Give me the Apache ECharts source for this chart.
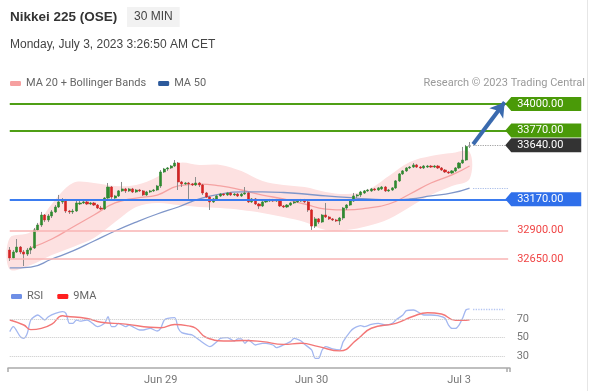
<!DOCTYPE html>
<html><head><meta charset="utf-8">
<script src="https://cdn.jsdelivr.net/npm/echarts@6/dist/echarts.min.js"></script>
<style>html,body{margin:0;padding:0;background:#fff}#c{width:589px;height:391px}</style>
</head><body><div id="c"></div>
<script>
// ---------- DATA ----------
const openP = [32728,32659,32711,32754,32711,32693,32728,32746,32903,32946,33033,32990,33025,33060,33103,33147,33164,33068,33060,33068,33129,33138,33147,33129,33138,33120,33094,33086,33181,33277,33181,33199,33243,33260,33243,33260,33234,33251,33243,33208,33234,33243,33251,33286,33408,33434,33443,33460,33486,33321,33304,33312,33304,33295,33312,33295,33225,33190,33147,33173,33199,33216,33208,33225,33208,33216,33199,33216,33225,33147,33173,33129,33112,33147,33155,33164,33155,33164,33112,33103,33120,33138,33147,33155,33164,33147,33077,32937,32999,32972,33033,33016,32999,32990,32981,33007,33094,33120,33155,33199,33208,33225,33243,33243,33260,33251,33260,33277,33243,33251,33269,33330,33391,33417,33443,33451,33469,33451,33443,33451,33460,33451,33460,33443,33425,33408,33399,33417,33443,33486,33512,33630];
const closeP = [32659,32711,32754,32711,32693,32728,32746,32903,32946,33033,32990,33025,33060,33103,33147,33164,33068,33060,33068,33138,33138,33147,33129,33138,33120,33094,33086,33181,33277,33190,33199,33243,33260,33243,33260,33234,33251,33243,33208,33234,33243,33251,33286,33408,33434,33443,33460,33486,33321,33304,33312,33304,33295,33312,33295,33225,33190,33147,33173,33199,33216,33208,33225,33208,33216,33199,33216,33225,33147,33173,33129,33112,33147,33155,33164,33155,33164,33112,33103,33120,33138,33147,33155,33164,33147,33077,32937,32999,32972,33033,33016,32999,32990,32981,33007,33094,33120,33155,33199,33208,33234,33243,33251,33260,33251,33269,33277,33243,33251,33269,33330,33391,33417,33443,33451,33469,33451,33443,33460,33460,33451,33460,33443,33425,33408,33399,33417,33443,33486,33512,33630,33640];
const lowP = [32633,32650,32702,32693,32589,32676,32693,32737,32894,32929,32972,32972,33007,33051,33094,33129,33051,33042,33042,33060,33120,33129,33120,33120,33112,33086,33077,33077,33173,33173,33164,33190,33234,33225,33234,33225,33225,33234,33199,33199,33225,33234,33243,33269,33399,33417,33434,33451,33251,33277,33295,33173,33286,33286,33277,33208,33181,33077,33138,33164,33190,33199,33199,33199,33199,33190,33190,33208,33138,33138,33120,33086,33103,33138,33147,33147,33147,33103,33094,33094,33112,33129,33138,33147,33138,33060,32903,32920,32955,32964,33007,32990,32981,32972,32946,32990,33077,33112,33147,33181,33190,33216,33234,33234,33243,33243,33251,33234,33234,33243,33260,33321,33382,33408,33434,33443,33443,33434,33434,33443,33443,33443,33434,33417,33399,33391,33391,33408,33434,33478,33504,33617];
const highP = [32754,32728,32824,32763,32728,32746,32763,32920,32964,33060,33042,33042,33077,33120,33208,33181,33173,33077,33086,33155,33155,33155,33155,33147,33147,33129,33112,33190,33312,33286,33208,33251,33321,33269,33269,33269,33260,33260,33251,33243,33251,33260,33295,33425,33443,33451,33469,33512,33495,33330,33321,33321,33312,33364,33321,33304,33234,33199,33181,33208,33225,33225,33234,33234,33225,33225,33225,33277,33234,33181,33181,33138,33155,33164,33173,33173,33173,33173,33120,33129,33147,33155,33164,33173,33173,33155,33086,33016,33007,33042,33138,33025,33007,32999,33016,33103,33129,33164,33225,33216,33243,33251,33260,33269,33269,33277,33286,33286,33260,33277,33338,33399,33425,33451,33460,33486,33478,33460,33469,33469,33469,33469,33469,33451,33434,33417,33425,33451,33495,33626,33643,33669];

// Bollinger bands (MA 20 +/- bands) and MA 50, sampled at candle indices
const bandIdx   = [0,6,12,18,24,30,36,42,48,54,60,66,72,78,84,90,96,102,108,114,120,126,131];
const bandUpper = [32833,32885,33129,33312,33312,33286,33295,33364,33486,33469,33469,33416,33329,33295,33277,33234,33216,33251,33373,33495,33547,33573,33582];
const bandLower = [32560,32598,32685,32755,32833,32972,33103,33138,33120,33103,33094,33077,33051,33016,32972,32903,32903,32937,32998,33103,33207,33286,33347];
const ma20Idx = [6,12,18,24,30,36,42,48,54,60,66,72,78,84,90,96,102,108,114,120,126,131];
const ma20Val = [32746,32824,32929,33033,33138,33181,33207,33286,33303,33286,33251,33207,33173,33129,33085,33077,33094,33129,33216,33312,33382,33460];
const ma50Idx = [0,6,12,18,24,30,36,42,48,54,60,66,72,78,84,90,96,102,108,114,120,126,131];
const ma50Val = [32572,32580,32650,32720,32807,32894,32972,33042,33103,33173,33216,33234,33234,33229,33216,33199,33186,33173,33164,33173,33199,33225,33268];

// RSI and its 9-period MA
const rsiIdx = [0,1,3,4,5,6,8,10,11,13,15,16,17,18,19,20,22,23,25,27,28,29,30,31,32,33,34,35,37,38,40,42,43,44,45,47,48,49,51,52,54,56,57,59,60,62,64,65,66,67,68,70,72,73,75,76,78,80,81,83,84,86,87,88,89,90,92,94,95,97,98,100,101,103,105,107,109,110,112,113,115,117,118,120,122,124,125,126,127,128,129,130,131];
const rsiVal = [56.3,61.7,50.9,49.1,54.5,68.9,74.3,68.9,72.5,76.1,77.9,76.1,65.3,65.3,68.9,67.8,68.9,67.1,61.7,65.3,72.5,61.7,61.7,65.3,63.5,61.7,63.5,61.7,58.1,58.1,59.9,57,59.9,68.9,70.7,71.4,59.9,55.2,53.4,52.7,47.3,41.9,40.1,45.5,49.1,49.8,46.2,48.4,48.4,43.7,47.3,41.9,43.7,43.7,41.9,39,41.9,45.5,49.1,46.2,42.6,36.5,27.5,27.5,36.5,40.1,37.6,36.5,45.5,56.3,59.9,62.8,61.7,64.2,65.3,63.5,65.3,68.9,74.3,79,79.7,76.1,74.3,74.3,73.6,70.7,63.5,59.9,59.9,63.5,70.7,80,81];
const ma9Idx = [0,4,6,9,12,15,16,22,26,33,40,43,47,51,53,56,62,67,72,78,83,88,94,99,103,110,115,119,123,127,130,131];
const ma9Val = [68.9,63.5,58.5,59.9,64.5,73.5,73,70.5,66.5,64.5,61,60.5,64,62.5,60,50,46.2,46.8,45.5,42.5,43.7,40.1,35.5,48,60,65.3,73,76.8,75.4,68.5,68.5,69];

// Key levels, tick labels
const levelValues = [34000, 33770, 33640, 33170, 32900, 32650];
const lastPrice = 33640;
const targetPrice = 34000;
const rsiTickValues = [30, 50, 70];
const dateLabelIdx = [43, 86, 128];
const dateLabelText = ['Jun 29', 'Jun 30', 'Jul 3'];

// ---------- LAYOUT / STYLE ----------
const SLOT = 3.51, MAIN_SLOTS = 165, RSI_SLOTS = 143;
const LINE_END = 142, TAG_IDX = 152, LAST = closeP.length - 1;
const FONT = 'Roboto, "Liberation Sans", Arial, sans-serif';
const SANS = '"Liberation Sans", Arial, sans-serif';
const levelStyle = {
  34000: {line: {color: '#4f9f15', width: 2}, tag: '#4a9a08'},
  33770: {line: {color: '#4f9f15', width: 2}, tag: '#4a9a08'},
  33640: {line: null, tag: '#333333'},
  33170: {line: {color: '#3b7cf0', width: 2}, tag: '#2f6fea'},
  32900: {line: {color: '#f9b3b3', width: 1.5}, text: '#f04545'},
  32650: {line: {color: '#f9b3b3', width: 1.5}, text: '#f04545'}
};
const tagPath = 'path://M6,0 L76,0 L76,14 L6,14 L0,7 Z';

const pairs = (idx, val) => idx.map((x, i) => [x, val[i]]);
const mainCats = Array.from({length: MAIN_SLOTS}, (_, i) => String(i));
const rsiCats = Array.from({length: RSI_SLOTS}, (_, i) => String(i));

const wickData = openP.map((o, i) => [o, closeP[i], lowP[i], highP[i]]);
const bodyData = openP.map((o, i) => {
  const c = closeP[i];
  const item = {value: [o, c, Math.min(o, c), Math.max(o, c)]};
  if (i === LAST) item.itemStyle = {color: '#9a9a9a', color0: '#9a9a9a', borderColor: '#9a9a9a', borderColor0: '#9a9a9a'};
  return item;
});
const bandData = bandIdx.map((x, i) => [x, bandUpper[i], bandLower[i]]);

const levelLines = [];
const levelTags = [];
levelValues.forEach(v => {
  const s = levelStyle[v];
  if (s.line) levelLines.push([{coord: [0, v], lineStyle: {color: s.line.color, width: s.line.width, type: 'solid'}}, {coord: [LINE_END, v]}]);
  if (s.tag) {
    levelTags.push({coord: [TAG_IDX, v], symbol: tagPath, symbolSize: [76, 14], itemStyle: {color: s.tag},
      label: {show: true, position: 'inside', formatter: v.toFixed(2), color: '#fff', fontSize: 11, fontFamily: FONT, offset: [-3, 0]}});
  } else {
    levelTags.push({coord: [TAG_IDX, v], symbol: 'rect', symbolSize: 1, itemStyle: {color: 'rgba(0,0,0,0)'},
      label: {show: true, position: 'inside', formatter: v.toFixed(2), color: s.text, fontSize: 11, fontFamily: FONT, offset: [-3, 0]}});
  }
});
levelLines.push([{coord: [LAST + 1, lastPrice], lineStyle: {color: '#a0a0a0', width: 1.2, type: 'dotted'}}, {coord: [LINE_END, lastPrice]}]);
levelLines.push([{coord: [LAST + 1, ma50Val[ma50Val.length - 1]], lineStyle: {color: '#a9bde8', width: 1.2, type: 'dotted'}}, {coord: [LINE_END, ma50Val[ma50Val.length - 1]]}]);
levelLines.push([{coord: [LAST + 1, lastPrice + 10], lineStyle: {color: '#3a6aae', width: 4, type: 'solid'}}, {coord: [LINE_END - 1, targetPrice + 15], symbol: 'arrow', symbolSize: [13, 14]}]);

const rsiLines = rsiTickValues.map(t => [
  {coord: [0, t], lineStyle: {color: '#c8c8c8', width: 1, type: 'dotted'},
   label: {show: true, position: 'end', formatter: String(t), color: '#777', fontSize: 11, fontFamily: FONT, distance: 12}},
  {coord: [LINE_END - 1, t]}
]);
rsiLines.push([{coord: [LAST + 1, rsiVal[rsiVal.length - 1]], lineStyle: {color: '#b4c5f2', width: 1.3, type: 'dotted'}, label: {show: false}},
  {coord: [LINE_END - 1, rsiVal[rsiVal.length - 1]]}]);

function renderBand(params, api) {
  if (params.dataIndex !== 0) return;
  const up = bandData.map(d => api.coord([d[0], d[1]]));
  const lo = bandData.map(d => api.coord([d[0], d[2]])).reverse();
  return {type: 'polygon', shape: {points: up.concat(lo), smooth: 0.35}, style: {fill: '#fde1e1', stroke: null}, silent: true};
}

const chart = echarts.init(document.getElementById('c'), null, {renderer: 'canvas'});
chart.setOption({
  animation: false,
  backgroundColor: '#fff',
  textStyle: {fontFamily: FONT},
  title: [
    {text: 'Nikkei 225 (OSE)', left: 10, top: 10, padding: 0, textStyle: {fontSize: 13.5, fontWeight: 'bold', color: '#333', fontFamily: SANS}},
    {text: '30 MIN', left: 127, top: 7, padding: [4, 7], backgroundColor: '#f2f2f2', textStyle: {fontSize: 12, fontWeight: 'normal', color: '#444', fontFamily: SANS}},
    {text: 'Monday, July 3, 2023 3:26:50 AM CET', left: 10, top: 39, padding: 0, textStyle: {fontSize: 12, fontWeight: 'normal', color: '#444', fontFamily: SANS}},
    {text: 'Research \u00a9 2023 Trading Central', right: 4, top: 78, padding: 0, textStyle: {fontSize: 11, fontWeight: 'normal', color: '#9a9a9a', fontFamily: FONT}}
  ],
  legend: [
    {data: [{name: 'MA 20 + Bollinger Bands', itemStyle: {color: '#f6a0a0'}}, {name: 'MA 50', itemStyle: {color: '#2d5a9c'}}],
     left: 10, top: 78, padding: 0, icon: 'roundRect', itemWidth: 11, itemHeight: 5, itemGap: 12, selectedMode: false,
     textStyle: {color: '#666', fontSize: 11, fontFamily: FONT}},
    {data: [{name: 'RSI', itemStyle: {color: '#6e8fe6'}}, {name: '9MA', itemStyle: {color: '#ff1f1f'}}],
     left: 11, top: 291, padding: 0, icon: 'roundRect', itemWidth: 11, itemHeight: 5, itemGap: 14, selectedMode: false,
     textStyle: {color: '#666', fontSize: 11, fontFamily: FONT}}
  ],
  graphic: [{type: 'line', shape: {x1: 587.5, y1: 0, x2: 587.5, y2: 391}, style: {stroke: '#e6e6e6', lineWidth: 1}}],
  grid: [
    {left: 8, top: 92.52, width: MAIN_SLOTS * SLOT, height: 183.7},
    {left: 8, top: 300.5, width: RSI_SLOTS * SLOT, height: 67.5}
  ],
  xAxis: [
    {type: 'category', gridIndex: 0, data: mainCats, boundaryGap: true, show: false},
    {type: 'category', gridIndex: 1, data: rsiCats, boundaryGap: true,
     axisLine: {show: true, lineStyle: {color: '#aaa', width: 1.5}},
     axisTick: {show: true, length: 4, lineStyle: {color: '#aaa', width: 1.5}, interval: (i) => i === 0 || i >= RSI_SLOTS - 1},
     axisLabel: {show: true, color: '#777', fontSize: 11, margin: 7, fontFamily: FONT,
       interval: (i) => dateLabelIdx.indexOf(i) >= 0,
       formatter: (v) => { const k = dateLabelIdx.indexOf(Number(v)); return k >= 0 ? dateLabelText[k] : ''; }},
     splitLine: {show: false}}
  ],
  yAxis: [
    {type: 'value', gridIndex: 0, min: 32500, max: 34100, show: false, splitLine: {show: false}},
    {type: 'value', gridIndex: 1, min: 17, max: 90, show: false, splitLine: {show: false}}
  ],
  series: [
    {name: 'bands', type: 'custom', xAxisIndex: 0, yAxisIndex: 0, data: bandData, renderItem: renderBand, z: 1, silent: true,
     encode: {x: 0, y: [1, 2]}},
    {name: 'MA 20 + Bollinger Bands', type: 'line', xAxisIndex: 0, yAxisIndex: 0, data: pairs(ma20Idx, ma20Val), smooth: true, z: 2,
     symbol: 'none', lineStyle: {color: '#f5a2a2', width: 1.3}, itemStyle: {color: '#f6a0a0'}, silent: true},
    {name: 'MA 50', type: 'line', xAxisIndex: 0, yAxisIndex: 0, data: pairs(ma50Idx, ma50Val), smooth: true, z: 2,
     symbol: 'none', lineStyle: {color: '#7f96c9', width: 1.3}, itemStyle: {color: '#2d5a9c'}, silent: true},
    {name: 'wicks', type: 'candlestick', xAxisIndex: 0, yAxisIndex: 0, data: wickData, barWidth: 1, silent: true, z: 3,
     itemStyle: {color: '#8c8c8c', color0: '#8c8c8c', borderColor: '#8c8c8c', borderColor0: '#8c8c8c', borderWidth: 1}},
    {name: 'bodies', type: 'candlestick', xAxisIndex: 0, yAxisIndex: 0, data: bodyData, barWidth: 2.6, silent: true, z: 4,
     itemStyle: {color: '#2f8a2f', color0: '#d42525', borderColor: '#2f8a2f', borderColor0: '#d42525', borderWidth: 0.6},
     markLine: {silent: true, symbol: ['none', 'none'], label: {show: false}, data: levelLines},
     markPoint: {silent: true, data: levelTags}},
    {name: 'RSI', type: 'line', xAxisIndex: 1, yAxisIndex: 1, data: pairs(rsiIdx, rsiVal), smooth: 0.25,
     symbol: 'none', lineStyle: {color: '#a3b7f0', width: 1.3}, itemStyle: {color: '#6e8fe6'}, silent: true, z: 3,
     markLine: {silent: true, symbol: ['none', 'none'], data: rsiLines}},
    {name: '9MA', type: 'line', xAxisIndex: 1, yAxisIndex: 1, data: pairs(ma9Idx, ma9Val), smooth: true,
     symbol: 'none', lineStyle: {color: '#f37777', width: 1.4}, itemStyle: {color: '#ff1f1f'}, silent: true, z: 4}
  ]
});
</script></body></html>
